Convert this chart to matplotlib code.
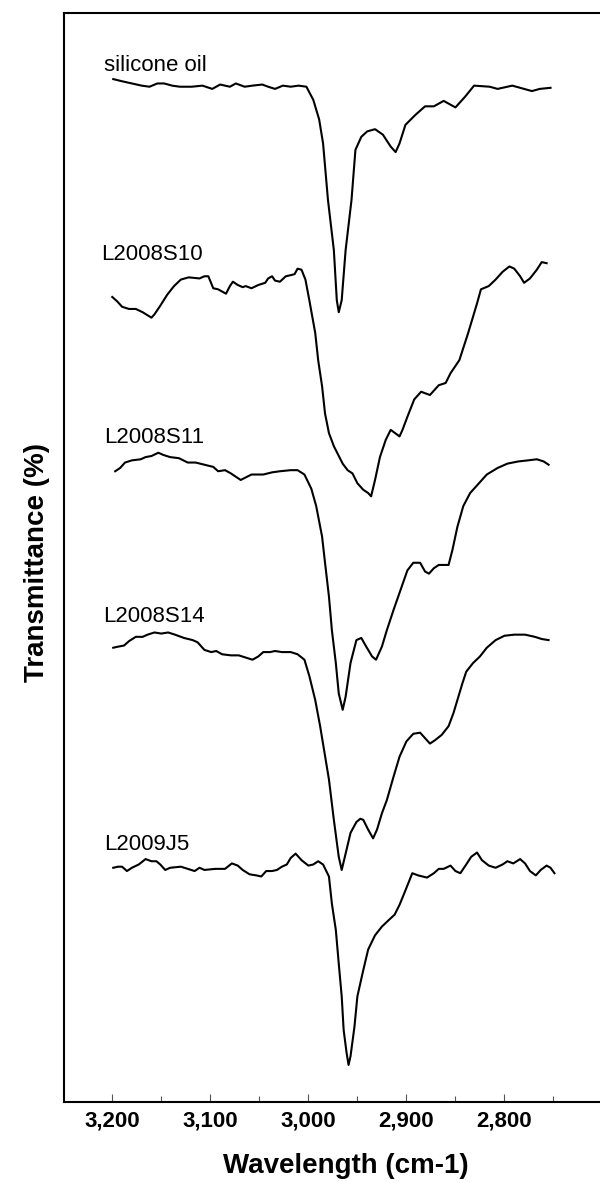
import matplotlib
matplotlib.use("Agg")
import matplotlib.pyplot as plt
from matplotlib.ticker import FixedLocator, FuncFormatter

plt.rcParams["font.family"] = ["Liberation Sans", "DejaVu Sans"]

# IR spectra, wavenumber (cm-1) vs transmittance (arbitrary, stacked)
silicone_x = [3199, 3190, 3180, 3170, 3162, 3154, 3147, 3139, 3131, 3119, 3108, 3098,
              3090, 3080, 3074, 3065, 3057, 3047, 3041, 3034, 3026, 3018, 3010, 3002,
              2995, 2989, 2985, 2980, 2974, 2971, 2969, 2966, 2962, 2956, 2952, 2946,
              2940, 2932, 2924, 2916, 2911, 2907, 2901, 2891, 2881, 2872, 2862, 2850,
              2840, 2831, 2815, 2807, 2792, 2772, 2764, 2753]
silicone_y = [93.9, 93.7, 93.5, 93.3, 93.2, 93.5, 93.5, 93.3, 93.2, 93.2, 93.3, 93.0,
              93.4, 93.2, 93.5, 93.2, 93.3, 93.4, 93.2, 93.0, 93.3, 93.2, 93.3, 93.2,
              92.0, 90.2, 88.0, 82.8, 78.2, 73.6, 72.5, 73.6, 78.2, 82.8, 87.4, 88.6,
              89.1, 89.3, 88.8, 87.7, 87.2, 88.0, 89.7, 90.6, 91.4, 91.4, 91.9, 91.3,
              92.3, 93.3, 93.2, 93.0, 93.3, 92.8, 93.0, 93.1]

s10_x = [3200, 3195, 3190, 3183, 3176, 3169, 3160, 3157, 3151, 3144, 3137, 3130,
         3122, 3111, 3106, 3102, 3097, 3092, 3084, 3080, 3077, 3072, 3067, 3064,
         3058, 3051, 3044, 3041, 3037, 3034, 3029, 3023, 3018, 3014, 3011, 3007,
         3003, 2999, 2993, 2990, 2986, 2983, 2979, 2974, 2965, 2960, 2955, 2950,
         2944, 2939, 2936, 2932, 2927, 2921, 2916, 2913, 2907, 2904, 2899, 2892,
         2885, 2876, 2870, 2867, 2860, 2855, 2846, 2837, 2828, 2824, 2816, 2809,
         2802, 2795, 2790, 2784, 2780, 2774, 2767, 2762, 2757]
s10_y = [73.9, 73.5, 73.0, 72.8, 72.8, 72.5, 72.0, 72.3, 73.1, 74.1, 74.9, 75.5,
         75.7, 75.6, 75.8, 75.8, 74.7, 74.6, 74.2, 74.9, 75.3, 75.0, 74.8, 74.9,
         74.7, 75.0, 75.2, 75.6, 75.8, 75.4, 75.3, 75.8, 75.9, 76.0, 76.5, 76.4,
         75.5, 73.6, 70.6, 68.1, 65.7, 63.2, 61.4, 60.2, 58.6, 58.0, 57.7, 56.8,
         56.2, 55.9, 55.6, 57.1, 59.2, 60.8, 61.7, 61.5, 61.1, 61.7, 62.9, 64.5,
         65.2, 64.9, 65.5, 65.8, 66.0, 66.9, 68.1, 70.6, 73.3, 74.6, 74.9, 75.5,
         76.2, 76.7, 76.5, 75.8, 75.2, 75.6, 76.4, 77.1, 77.0]

s11_x = [3197, 3192, 3187, 3180, 3171, 3166, 3160, 3153, 3148, 3141, 3132, 3123,
         3115, 3106, 3097, 3092, 3085, 3079, 3069, 3058, 3046, 3037, 3029, 3018,
         3011, 3004, 2997, 2992, 2986, 2983, 2979, 2976, 2972, 2969, 2965, 2962,
         2957, 2951, 2946, 2941, 2935, 2931, 2925, 2920, 2913, 2906, 2899, 2893,
         2886, 2881, 2877, 2872, 2867, 2857, 2853, 2848, 2842, 2835, 2828, 2818,
         2807, 2797, 2786, 2776, 2767, 2760, 2755]
s11_y = [57.9, 58.2, 58.7, 58.9, 59.0, 59.2, 59.3, 59.6, 59.4, 59.2, 59.1, 58.7,
         58.7, 58.5, 58.3, 57.9, 58.0, 57.7, 57.1, 57.6, 57.6, 57.8, 57.9, 58.0,
         58.0, 57.6, 56.3, 54.7, 51.9, 49.5, 46.4, 43.3, 40.3, 37.5, 36.0, 37.2,
         40.3, 42.4, 42.6, 41.8, 40.9, 40.6, 41.8, 43.3, 45.2, 47.0, 48.8, 49.5,
         49.5, 48.7, 48.5, 49.0, 49.3, 49.3, 50.7, 52.8, 54.7, 55.9, 56.6, 57.6,
         58.2, 58.6, 58.8, 58.9, 59.0, 58.8, 58.5]

s14_x = [3199, 3194, 3188, 3183, 3176, 3169, 3164, 3157, 3150, 3143, 3136, 3127,
         3118, 3113, 3106, 3099, 3094, 3088, 3079, 3071, 3064, 3057, 3051, 3046,
         3039, 3034, 3027, 3018, 3011, 3004, 2999, 2993, 2988, 2979, 2974, 2969,
         2966, 2962, 2957, 2951, 2947, 2944, 2939, 2934, 2930, 2925, 2920, 2913,
         2907, 2900, 2893, 2886, 2881, 2876, 2871, 2864, 2857, 2852, 2847, 2843,
         2839, 2832, 2825, 2818, 2809, 2800, 2790, 2779, 2769, 2762, 2755]
s14_y = [41.7, 41.8, 41.9, 42.3, 42.7, 42.7, 42.9, 43.1, 43.0, 43.1, 42.9, 42.6,
         42.4, 42.2, 41.5, 41.3, 41.4, 41.1, 41.0, 41.0, 40.8, 40.6, 40.9, 41.3,
         41.3, 41.4, 41.3, 41.3, 41.1, 40.6, 39.1, 36.9, 34.5, 29.6, 25.9, 22.5,
         21.3, 22.8, 24.7, 25.7, 26.0, 25.9, 25.0, 24.2, 25.0, 26.5, 27.7, 29.9,
         31.7, 33.1, 33.8, 33.9, 33.4, 32.9, 33.2, 33.7, 34.5, 35.7, 37.2, 38.4,
         39.5, 40.3, 40.9, 41.7, 42.4, 42.8, 42.9, 42.9, 42.7, 42.5, 42.4]

j5_x = [3199, 3194, 3190, 3185, 3180, 3173, 3166, 3160, 3155, 3151, 3146, 3141,
        3130, 3123, 3116, 3111, 3106, 3095, 3085, 3078, 3072, 3067, 3060, 3053,
        3048, 3043, 3037, 3032, 3027, 3022, 3018, 3013, 3007, 3000, 2995, 2990,
        2985, 2979, 2976, 2972, 2969, 2966, 2964, 2961, 2959, 2957, 2953, 2950,
        2944, 2939, 2932, 2925, 2918, 2912, 2907, 2902, 2898, 2894, 2888, 2879,
        2872, 2867, 2862, 2855, 2850, 2845, 2839, 2834, 2828, 2823, 2816, 2809,
        2802, 2797, 2791, 2784, 2779, 2774, 2768, 2763, 2757, 2753, 2749]
j5_y = [21.5, 21.6, 21.6, 21.2, 21.5, 21.8, 22.3, 22.1, 22.1, 21.8, 21.3, 21.5,
        21.6, 21.4, 21.2, 21.5, 21.3, 21.4, 21.4, 21.9, 21.7, 21.3, 20.9, 20.8,
        20.7, 21.2, 21.2, 21.3, 21.6, 21.8, 22.4, 22.8, 22.2, 21.7, 21.8, 22.1,
        21.8, 20.7, 18.2, 15.8, 12.7, 9.7, 6.6, 4.5, 3.4, 4.2, 6.9, 9.7,
        12.1, 14.0, 15.3, 16.1, 16.7, 17.2, 18.1, 19.2, 20.1, 21.0, 20.8, 20.6,
        21.0, 21.4, 21.4, 21.7, 21.2, 21.0, 21.8, 22.5, 22.9, 22.2, 21.7, 21.5,
        21.8, 22.1, 21.9, 22.3, 21.9, 21.2, 20.8, 21.3, 21.7, 21.5, 21.0]

names = ["silicone oil", "L2008S10", "L2008S11", "L2008S14", "L2009J5"]
label_x = [3208, 3211, 3208, 3209, 3208]
label_y = [94.6, 77.3, 60.5, 44.1, 23.1]

series = [(silicone_x, silicone_y), (s10_x, s10_y), (s11_x, s11_y),
          (s14_x, s14_y), (j5_x, j5_y)]

fig = plt.figure(figsize=(6, 11.82), dpi=100)
ax = fig.add_axes([0.1067, 0.0677, 0.8983, 0.9216])

for (xs, ys), name, lx, ly in zip(series, names, label_x, label_y):
    ax.plot(xs, ys, color="black", linewidth=1.5, solid_joinstyle="round")
    ax.text(lx, ly, name, fontsize=16, ha="left", va="baseline")

ax.set_xlim(3249.2, 2699.5)
ax.set_ylim(0, 100)

ax.xaxis.set_major_locator(FixedLocator([3200, 3100, 3000, 2900, 2800]))
ax.xaxis.set_minor_locator(FixedLocator([3150, 3050, 2950, 2850, 2750]))
ax.xaxis.set_major_formatter(FuncFormatter(lambda v, p: f"{v:,.0f}"))
ax.tick_params(axis="x", which="major", direction="in", length=6, width=0.8,
               color="#555555", labelsize=16, pad=6)
ax.tick_params(axis="x", which="minor", direction="in", length=4, width=0.8,
               color="#555555")
for lab in ax.get_xticklabels():
    lab.set_fontweight("bold")
ax.set_yticks([])

for sp in ax.spines.values():
    sp.set_linewidth(1.5)

fig.text(0.577, 0.0076, "Wavelength (cm-1)", fontsize=20, fontweight="bold",
         ha="center", va="baseline")
fig.text(0.062, 0.5237, "Transmittance (%)", fontsize=20, fontweight="bold",
         rotation=90, ha="center", va="center")

fig.savefig("out.png", dpi=100)
